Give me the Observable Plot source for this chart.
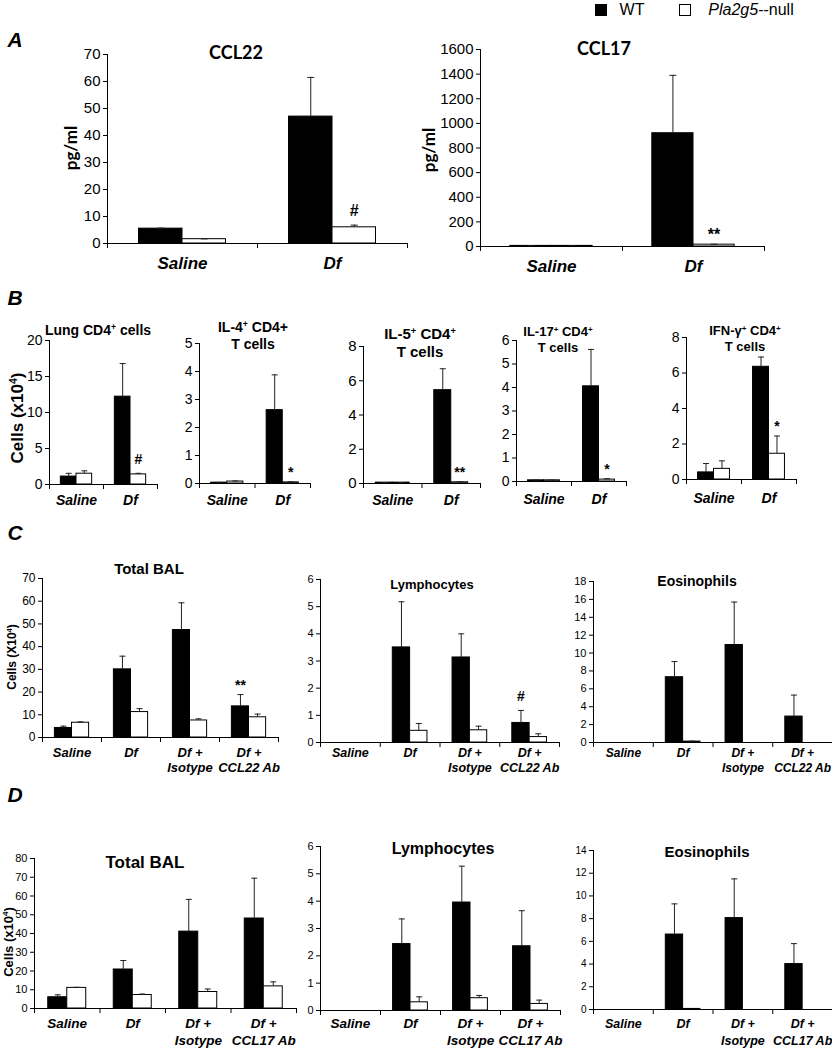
<!DOCTYPE html>
<html><head><meta charset="utf-8">
<script src="https://cdn.jsdelivr.net/npm/d3@7"></script>
<script src="https://cdn.jsdelivr.net/npm/@observablehq/plot@0.6"></script>
<style>
body{margin:0;background:#fff;}
#fig{position:relative;width:832px;height:1050px;overflow:hidden;font-family:"Liberation Sans",Arial,sans-serif;color:#000;background:#fff;}
.abs{position:absolute;white-space:nowrap;line-height:1.15;text-align:center;}
sup{font-size:0.62em;vertical-align:0.55em;line-height:0;}
</style></head><body><div id="fig"></div><script>
// ---------------- data ----------------
const groups = ["WT", "Pla2g5--null"];
const catsAB = ["Saline", "Df"];
const catsC = ["Saline", "Df", "Df +\nIsotype", "Df +\nCCL22 Ab"];
const catsD = ["Saline", "Df", "Df +\nIsotype", "Df +\nCCL17 Ab"];

// A
const ticksCCL22 = [0, 10, 20, 30, 40, 50, 60, 70];
const ccl22WT = [5.5, 47.0], ccl22WTErr = [0.2, 14.5];
const ccl22Null = [1.6, 6.0], ccl22NullErr = [0.1, 0.8];
const ccl22NullSig = ["", "#"];
const ticksCCL17 = [0, 200, 400, 600, 800, 1000, 1200, 1400, 1600];
const ccl17WT = [5, 920], ccl17WTErr = [2, 470];
const ccl17Null = [5, 15], ccl17NullErr = [1, 3];
const ccl17NullSig = ["", "**"];

// B
const ticksLung = [0, 5, 10, 15, 20];
const lungWT = [1.1, 12.2], lungWTErr = [0.45, 4.6];
const lungNull = [1.5, 1.4], lungNullErr = [0.4, 0.15];
const lungNullSig = ["", "#"];
const ticksIL4 = [0, 1, 2, 3, 4, 5];
const il4WT = [0.03, 2.62], il4WTErr = [0.01, 1.26];
const il4Null = [0.07, 0.04], il4NullErr = [0.02, 0.02];
const il4NullSig = ["", "*"];
const ticksIL5 = [0, 2, 4, 6, 8];
const il5WT = [0.05, 5.45], il5WTErr = [0.01, 1.25];
const il5Null = [0.05, 0.07], il5NullErr = [0.01, 0.03];
const il5NullSig = ["", "**"];
const ticksIL17 = [0, 1, 2, 3, 4, 5, 6];
const il17WT = [0.05, 4.05], il17WTErr = [0.01, 1.57];
const il17Null = [0.05, 0.08], il17NullErr = [0.01, 0.04];
const il17NullSig = ["", "*"];
const ticksIFN = [0, 2, 4, 6, 8];
const ifnWT = [0.4, 6.35], ifnWTErr = [0.5, 0.55];
const ifnNull = [0.6, 1.45], ifnNullErr = [0.45, 1.0];
const ifnNullSig = ["", "*"];

// C
const ticksBalC = [0, 10, 20, 30, 40, 50, 60, 70];
const balCWT = [4.2, 30.0, 47.3, 13.7], balCWTErr = [0.8, 5.8, 12.0, 5.2];
const balCNull = [6.5, 11.2, 7.5, 8.9], balCNullErr = [0.4, 1.5, 0.7, 1.4];
const balCWTSig = ["", "", "", "**"];
const ticksLymC = [0, 1, 2, 3, 4, 5, 6];
const lymCWT = [0, 3.5, 3.13, 0.72], lymCWTErr = [0, 1.68, 0.87, 0.46];
const lymCNull = [0, 0.43, 0.45, 0.2], lymCNullErr = [0, 0.27, 0.15, 0.12];
const lymCWTSig = ["", "", "", "#"];
const ticksEosC = [0, 2, 4, 6, 8, 10, 12, 14, 16, 18];
const eosCWT = [0, 7.3, 10.9, 2.9], eosCWTErr = [0, 1.75, 4.8, 2.4];
const eosCNull = [0, 0.1, 0, 0], eosCNullErr = [0, 0.05, 0, 0];

// D
const ticksBalD = [0, 10, 20, 30, 40, 50, 60, 70, 80];
const balDWT = [6, 20.8, 41, 48], balDWTErr = [1.3, 4.8, 17.2, 21.5];
const balDNull = [11, 7.2, 8.8, 11.8], balDNullErr = [0.3, 0.5, 1.6, 2.4];
const ticksLymD = [0, 1, 2, 3, 4, 5, 6];
const lymDWT = [0, 2.43, 3.95, 2.35], lymDWTErr = [0, 0.92, 1.33, 1.3];
const lymDNull = [0, 0.3, 0.45, 0.24], lymDNullErr = [0, 0.2, 0.1, 0.14];
const ticksEosD = [0, 2, 4, 6, 8, 10, 12, 14];
const eosDWT = [0, 6.6, 8.05, 4.0], eosDWTErr = [0, 2.7, 3.45, 1.8];
const eosDNull = [0, 0.05, 0, 0], eosDNullErr = [0, 0, 0, 0];

// ---------------- layout ----------------
const fig = document.getElementById("fig");
const capSymbol = {draw(ctx, size) { const w = Math.sqrt(size / Math.PI); ctx.moveTo(-w, 0); ctx.lineTo(w, 0); }};

function panel(c) {
  const n = c.cats.length;
  const rows = [];
  c.cats.forEach((cat, i) => {
    rows.push({i, g: 0, v: c.wt[i], e: c.wtErr[i], s: (c.wtSig || [])[i] || ""});
    rows.push({i, g: 1, v: c.nul[i], e: c.nulErr[i], s: (c.nulSig || [])[i] || ""});
  });
  const bw = 0.29;
  const x1 = d => d.g === 0 ? d.i - bw : d.i;
  const x2 = d => d.g === 0 ? d.i : d.i + bw;
  const xc = d => d.i + (d.g === 0 ? -bw / 2 : bw / 2);
  const mL = 60, mR = 6, mT = 14, mB = 60;
  const ymax = c.ticks[c.ticks.length - 1];
  const bounds = d3.range(n + 1).map(k => k - 0.5);
  const err = rows.filter(d => d.e > 0);
  const svg = Plot.plot({
    width: c.axisEnd - c.axisX + mL + mR,
    height: c.y0 - c.yTop + mT + mB,
    marginLeft: mL, marginRight: mR, marginTop: mT, marginBottom: mB,
    style: {fontFamily: '"Liberation Sans", Arial, sans-serif', fontSize: c.tickFont + "px", color: "#000", background: "transparent", overflow: "visible"},
    x: {domain: [-0.5, n - 0.5], ticks: bounds, tickSize: 5, tickFormat: () => "", label: null},
    y: {domain: [0, ymax], ticks: c.ticks, tickSize: 4, tickPadding: 3, tickFormat: d => String(d), label: null},
    marks: [
      Plot.rect(rows, {x1, x2, y1: () => 0, y2: "v", fill: d => d.g ? "#fff" : "#000", stroke: "#000", strokeWidth: 1}),
      Plot.ruleX(err, {x: xc, y1: "v", y2: d => d.v + d.e, stroke: "#222", strokeWidth: 1}),
      Plot.dot(err, {x: xc, y: d => d.v + d.e, symbol: capSymbol, r: c.capR || 3, fill: "none", stroke: "#222", strokeWidth: 1}),
      Plot.ruleX([-0.5], {stroke: "#000"}),
      Plot.ruleY([0], {stroke: "#000"}),
      Plot.text(rows.filter(d => d.s === "#"), {x: xc, y: d => d.v + d.e, text: "s", dy: -14, fontWeight: "bold", fontSize: c.sigFont || 14}),
      Plot.text(rows.filter(d => d.s && d.s !== "#"), {x: xc, y: d => d.v + d.e, text: "s", dy: -9, fontWeight: "bold", fontSize: c.sigFont || 14}),
      Plot.text(c.cats, {x: (d, i) => i, frameAnchor: "bottom", lineAnchor: "top", dy: c.catDy, text: d => d, fontWeight: "bold", fontStyle: "italic", fontSize: c.catFont, lineHeight: c.catLH || 1.2})
    ]
  });
  svg.style.position = "absolute";
  svg.style.left = (c.axisX - mL) + "px";
  svg.style.top = (c.yTop - mT) + "px";
  svg.style.maxWidth = "none";
  fig.appendChild(svg);
}

const panels = [
  {cats: catsAB, wt: ccl22WT, wtErr: ccl22WTErr, nul: ccl22Null, nulErr: ccl22NullErr, nulSig: ccl22NullSig, ticks: ticksCCL22,
   axisX: 107, axisEnd: 407, yTop: 54, y0: 243, tickFont: 15, catFont: 17, catDy: 11, sigFont: 16, capR: 3.5},
  {cats: catsAB, wt: ccl17WT, wtErr: ccl17WTErr, nul: ccl17Null, nulErr: ccl17NullErr, nulSig: ccl17NullSig, ticks: ticksCCL17,
   axisX: 480, axisEnd: 764, yTop: 49, y0: 246, tickFont: 15, catFont: 17, catDy: 11, sigFont: 16, capR: 3.5},
  {cats: catsAB, wt: lungWT, wtErr: lungWTErr, nul: lungNull, nulErr: lungNullErr, nulSig: lungNullSig, ticks: ticksLung,
   axisX: 49, axisEnd: 157, yTop: 340, y0: 484, tickFont: 14, catFont: 14, catDy: 9},
  {cats: catsAB, wt: il4WT, wtErr: il4WTErr, nul: il4Null, nulErr: il4NullErr, nulSig: il4NullSig, ticks: ticksIL4,
   axisX: 199, axisEnd: 310, yTop: 343, y0: 483, tickFont: 14, catFont: 14, catDy: 10},
  {cats: catsAB, wt: il5WT, wtErr: il5WTErr, nul: il5Null, nulErr: il5NullErr, nulSig: il5NullSig, ticks: ticksIL5,
   axisX: 363, axisEnd: 480, yTop: 346, y0: 483, tickFont: 15, catFont: 14, catDy: 10},
  {cats: catsAB, wt: il17WT, wtErr: il17WTErr, nul: il17Null, nulErr: il17NullErr, nulSig: il17NullSig, ticks: ticksIL17,
   axisX: 516, axisEnd: 626, yTop: 340, y0: 481, tickFont: 14, catFont: 14, catDy: 11},
  {cats: catsAB, wt: ifnWT, wtErr: ifnWTErr, nul: ifnNull, nulErr: ifnNullErr, nulSig: ifnNullSig, ticks: ticksIFN,
   axisX: 686, axisEnd: 796, yTop: 337, y0: 479, tickFont: 14, catFont: 14, catDy: 12},
  {cats: catsC, wt: balCWT, wtErr: balCWTErr, nul: balCNull, nulErr: balCNullErr, wtSig: balCWTSig, ticks: ticksBalC,
   axisX: 42, axisEnd: 278, yTop: 578, y0: 737, tickFont: 12, catFont: 13, catDy: 8, catLH: 1.2},
  {cats: catsC, wt: lymCWT, wtErr: lymCWTErr, nul: lymCNull, nulErr: lymCNullErr, wtSig: lymCWTSig, ticks: ticksLymC,
   axisX: 320, axisEnd: 559, yTop: 579, y0: 742, tickFont: 11, catFont: 12.5, catDy: 3, catLH: 1.25},
  {cats: catsC, wt: eosCWT, wtErr: eosCWTErr, nul: eosCNull, nulErr: eosCNullErr, ticks: ticksEosC,
   axisX: 593, axisEnd: 832, yTop: 581, y0: 742, tickFont: 11, catFont: 12, catDy: 3, catLH: 1.3},
  {cats: catsD, wt: balDWT, wtErr: balDWTErr, nul: balDNull, nulErr: balDNullErr, ticks: ticksBalD,
   axisX: 34, axisEnd: 296, yTop: 858, y0: 1008, tickFont: 11, catFont: 13.5, catDy: 8, catLH: 1.25},
  {cats: catsD, wt: lymDWT, wtErr: lymDWTErr, nul: lymDNull, nulErr: lymDNullErr, ticks: ticksLymD,
   axisX: 320, axisEnd: 560, yTop: 846, y0: 1010, tickFont: 11, catFont: 13.5, catDy: 6, catLH: 1.25},
  {cats: catsD, wt: eosDWT, wtErr: eosDWTErr, nul: eosDNull, nulErr: eosDNullErr, ticks: ticksEosD,
   axisX: 593, axisEnd: 832, yTop: 850, y0: 1009, tickFont: 10, catFont: 12.5, catDy: 7, catLH: 1.35}
];
panels.forEach(panel);

// ---------------- text ----------------
function label(html, x, y, css, rotate) {
  const d = document.createElement("div");
  d.className = "abs";
  d.innerHTML = html;
  d.style.left = x + "px";
  d.style.top = y + "px";
  d.style.transform = "translate(-50%,-50%)" + (rotate ? " rotate(-90deg)" : "");
  d.style.cssText += css;
  fig.appendChild(d);
}
const lato = "font-family:Lato,'Liberation Sans',sans-serif;font-weight:bold;";
const bold = "font-weight:bold;";
const letter = "font-weight:bold;font-style:italic;font-size:21px;";
label("A", 15, 40, letter);
label("B", 15, 298, letter);
label("C", 15, 533, letter);
label("D", 15, 795, letter);
label("CCL22", 236, 52, lato + "font-size:18px;");
label("CCL17", 604, 48, lato + "font-size:18px;");
label("pg/ml", 71, 148, lato + "font-size:17px;", true);
label("pg/ml", 429, 150, lato + "font-size:17px;", true);
label("Lung CD4<sup>+</sup> cells", 98, 330, bold + "font-size:14px;");
label("IL-4<sup>+</sup> CD4+<br>T cells", 253, 336, bold + "font-size:14px;line-height:1.2;");
label("IL-5<sup>+</sup> CD4<sup>+</sup><br>T cells", 420, 343, bold + "font-size:15px;line-height:1.2;");
label("IL-17<sup>+</sup> CD4<sup>+</sup><br>T cells", 558, 340, bold + "font-size:13px;line-height:1.2;");
label("IFN-γ<sup>+</sup> CD4<sup>+</sup><br>T cells", 745, 339, bold + "font-size:13px;line-height:1.2;");
label("Cells (x10<sup>4</sup>)", 18, 418, bold + "font-size:17px;", true);
label("Total BAL", 149, 569, bold + "font-size:15px;");
label("Lymphocytes", 432, 585, bold + "font-size:13px;");
label("Eosinophils", 697, 581, bold + "font-size:14px;");
label("Cells (X10<sup>4</sup>)", 13, 657, bold + "font-size:12px;", true);
label("Total BAL", 145, 863, bold + "font-size:17px;");
label("Lymphocytes", 443, 849, bold + "font-size:16px;");
label("Eosinophils", 707, 852, bold + "font-size:15px;");
label("Cells (x10<sup>4</sup>)", 9, 942, bold + "font-size:13px;", true);

// legend
const sw = (x, fill) => {
  const s = document.createElement("div");
  s.style.cssText = `position:absolute;left:${x}px;top:4px;width:10px;height:10px;background:${fill};border:1px solid #000;`;
  fig.appendChild(s);
};
sw(595, "#000");
sw(679, "#fff");
label(groups[0], 632, 10, "font-size:16px;");
label("<i>Pla2g5</i>" + groups[1].slice(6), 751, 10, "font-size:16px;");
</script></body></html>
